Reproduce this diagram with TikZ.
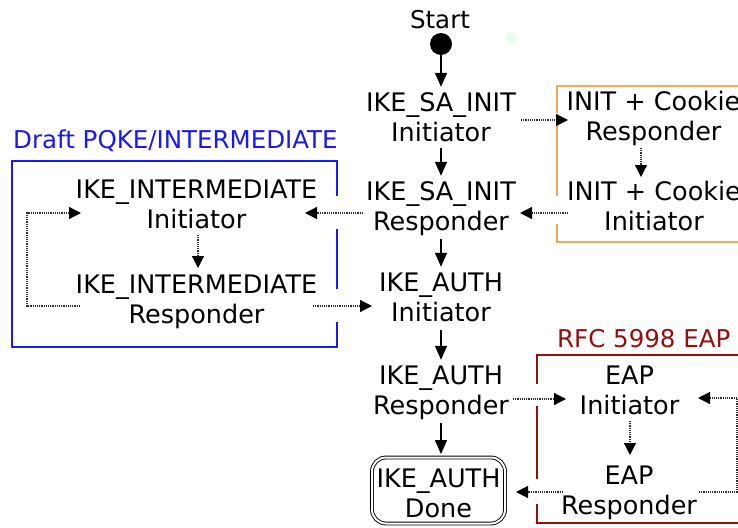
\documentclass[tikz,border=0pt]{standalone}
\usepackage{fontspec}
\setmainfont{DejaVu Sans}
\usetikzlibrary{arrows.meta,calc}
\definecolor{pqblue}{RGB}{25,25,245}
\definecolor{ckorange}{RGB}{240,170,85}
\definecolor{eapred}{RGB}{150,15,15}
\definecolor{dotgray}{RGB}{45,45,45}
\definecolor{faintgreen}{RGB}{236,252,236}
\newcommand{\twoline}[2]{\strut #1\\\strut #2}
\begin{document}
\begin{tikzpicture}[x=1pt,y=-1pt,
  state/.style={align=center, inner sep=0pt, font=\fontsize{25.5}{30}\selectfont},
  titletext/.style={anchor=base west, inner sep=0pt, font=\fontsize{24.5}{29}\selectfont},
  mainarrow/.style={-{Triangle[length=14pt,width=12pt]}, line width=1.3pt, shorten >=3pt},
  sidearrow/.style={-{Triangle[length=12pt,width=12pt,color=black]}, line width=1.2pt, dotgray, dash pattern=on 1.2pt off 1pt},
  groupline/.style={line width=#1, line join=miter, line cap=rect},
]
\clip (0,0) rectangle (738,527);
\fill[white] (0,0) rectangle (738,527);

% group boxes
\draw[groupline=2pt, pqblue] (337,195) -- (337,161) -- (12,161) -- (12,347) -- (337,347) -- (337,323);
\draw[groupline=2pt, pqblue] (337,230) -- (337,288);
\draw[groupline=1.5pt, ckorange] (557,112) -- (557,86) -- (750,86);
\draw[groupline=1.5pt, ckorange] (557,123) -- (557,195);
\draw[groupline=1.5pt, ckorange] (557,225) -- (557,242) -- (750,242);
\draw[groupline=2pt, eapred] (537,383) -- (537,355) -- (750,355);
\draw[groupline=2pt, eapred] (537,407) -- (537,478);
\draw[groupline=2pt, eapred] (537,505) -- (537,523) -- (750,523);

% titles
\node[titletext, text=pqblue] (pqtitle) at (13,148) {Draft PQKE/INTERMEDIATE};
\node[titletext, text=eapred] (eaptitle) at (557,347) {RFC 5998 EAP};
\node[titletext, anchor=base] (starttext) at (440,29) {Start};

% faint dot
\fill[faintgreen] (511,38) circle (6);

% nodes
\node[circle, fill=black, inner sep=0pt, minimum size=22pt] (dot) at (441,44) {};
\node[state] (saii) at (441,120) {\twoline{IKE\_SA\_INIT}{Initiator}};
\node[state] (sair) at (441,209) {\twoline{IKE\_SA\_INIT}{Responder}};
\node[state] (authi) at (441,300) {\twoline{IKE\_AUTH}{Initiator}};
\node[state] (authr) at (441,393) {\twoline{IKE\_AUTH}{Responder}};
\node[state, draw, double, line width=0.9pt, double distance=2pt, rounded corners=14pt, minimum width=133pt] (done) at (438.5,490.5)
  {\rule{0pt}{30pt}IKE\_AUTH\\Done\rule[-6pt]{0pt}{6pt}};
\node[state] (ckr) at (653.5,119) {\twoline{INIT + Cookie}{Responder}};
\node[state] (cki) at (654,209) {\twoline{INIT + Cookie}{Initiator}};
\node[state] (inti) at (196.5,207) {\twoline{IKE\_INTERMEDIATE}{Initiator}};
\node[state] (intr) at (196.5,302) {\twoline{IKE\_INTERMEDIATE}{Responder}};
\node[state] (eapi) at (629.5,393) {\twoline{EAP}{Initiator}};
\node[state] (eapr) at (629,493) {\twoline{EAP}{Responder}};

% main flow
\draw[mainarrow] (dot) -- (saii.north);
\draw[mainarrow, shorten <=-2pt] (saii.south) -- (sair.north);
\draw[mainarrow] (sair.south) -- (authi.north);
\draw[mainarrow] (authi.south) -- (authr.north);
\draw[mainarrow] (authr.south) -- (authr.south |- done.north);

% side flows
\draw[sidearrow] ($(saii)+(80,0)$) -- ($(ckr)+(-85.5,1)$);
\draw[sidearrow] ($(ckr)+(-12.5,29)$) -- ($(cki)+(-13,-32)$);
\draw[sidearrow] ($(cki)+(-86,4)$) -- ($(sair)+(79,4)$);
\draw[sidearrow] ($(sair)+(-78,4)$) -- ($(inti)+(108.5,6)$);
\draw[sidearrow] ($(inti)+(1.5,28)$) -- ($(intr)+(1.5,-34)$);
\draw[sidearrow] ($(intr)+(-116.5,4)$) -- ++(-53,0) |- ($(inti)+(-115.5,6)$);
\draw[sidearrow] ($(intr)+(116.5,4)$) -- ($(authi)+(-69,6)$);
\draw[sidearrow] ($(authr)+(72,6)$) -- ($(eapi)+(-63.5,6)$);
\draw[sidearrow] ($(eapi)+(0.5,28)$) -- ($(eapr)+(1,-38)$);
\draw[sidearrow] ($(eapr)+(70,-1)$) -- ++(38,0) |- ($(eapi)+(68.5,5)$);
\draw[sidearrow] ($(eapr)+(-66,-1)$) -- ($(done)+(77.5,1.5)$);
\end{tikzpicture}
\end{document}
